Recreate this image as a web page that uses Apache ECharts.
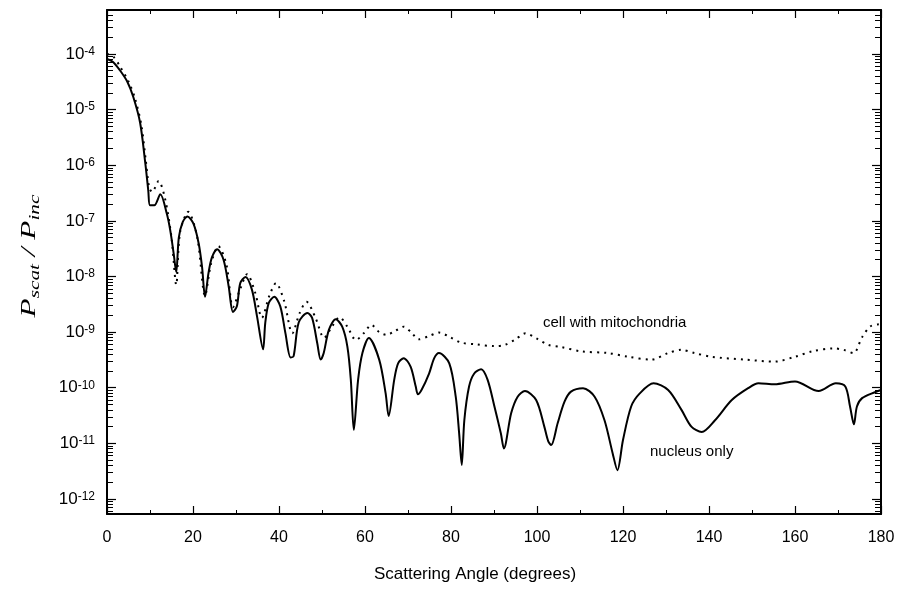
<!DOCTYPE html>
<html><head><meta charset="utf-8">
<script src="https://cdn.jsdelivr.net/npm/echarts@6/dist/echarts.min.js"></script>
<style>html,body{margin:0;padding:0;background:#fff}#c{width:903px;height:593px}</style>
</head><body><div id="c"></div>
<script>
// Scattering angle (degrees) and P_scat/P_inc for the nucleus only
const nucleusAngle = [0,1.4,3,4.7,6.1,7.7,8.9,9.6,10,11,12.4,13.9,14.7,15.5,16.1,16.7,17.6,18.7,20.1,21.3,22.1,22.8,23.6,24.4,25.6,27.1,28.3,29.3,30.2,31,32.2,33.7,34.9,36.3,36.8,37.6,38.9,40.3,41.5,42.7,43.4,44.6,46.6,47.7,48.9,49.7,50.4,51.6,53.2,54.7,55.9,56.7,57.4,58.4,59.4,60.9,63.3,64.8,65.5,66.8,67.7,69,70.6,71.8,72.3,73.2,74.9,76.1,77.2,79.6,81.1,81.9,82.5,83.1,84.2,85.4,87,88.5,90.1,91.6,92.3,94,95.5,97.2,99.8,101.7,102.6,103.3,104.8,106.4,107.9,110.7,113.4,115.7,117.6,118.7,120,121.9,123.9,127.1,130.5,133.6,135.9,138.3,141.4,145.3,149.1,151.5,155.3,160,165.5,169.5,171.7,172.8,173.7,174.4,175.6,178.6,180];
const nucleusValue = [8.1e-5,7.2e-5,5.1e-5,3.2e-5,1.7e-5,5.8e-6,1.1e-6,3.5e-7,1.9e-7,1.9e-7,3.0e-7,1.35e-7,6.8e-8,2.6e-8,1.2e-8,5.0e-8,9.5e-8,1.2e-7,8.9e-8,4.0e-8,1.5e-8,4.3e-9,1.15e-8,2.2e-8,3.1e-8,2.0e-8,6.6e-9,2.3e-9,2.9e-9,7.6e-9,9.8e-9,5.8e-9,1.9e-9,4.9e-10,1.45e-9,3.3e-9,4.3e-9,2.9e-9,9.5e-10,3.5e-10,3.7e-10,1.5e-9,2.2e-9,1.8e-9,6.3e-10,3.2e-10,4.2e-10,1.1e-9,1.7e-9,1.25e-9,5.5e-10,1.4e-10,1.75e-11,1.4e-10,4.2e-10,7.8e-10,3.2e-10,7.9e-11,3.1e-11,1.4e-10,2.75e-10,3.4e-10,2.4e-10,1.05e-10,7.6e-11,9.3e-11,1.8e-10,3.4e-10,4.2e-10,2.75e-10,6.9e-11,1.5e-11,4.1e-12,2.6e-11,1.05e-10,1.8e-10,2.15e-10,1.4e-10,4.6e-11,1.5e-11,8.1e-12,3.5e-11,6.9e-11,8.7e-11,6.0e-11,2.0e-11,1.1e-11,9.3e-12,2.3e-11,5.6e-11,8.5e-11,9.8e-11,6.9e-11,2.6e-11,6.6e-12,3.3e-12,1.15e-11,4.6e-11,7.9e-11,1.2e-10,9.1e-11,4.0e-11,2.0e-11,1.6e-11,2.6e-11,6.0e-11,9.8e-11,1.2e-10,1.15e-10,1.3e-10,8.7e-11,1.2e-10,1.05e-10,4.6e-11,2.2e-11,4.6e-11,6.5e-11,8.3e-11,9.1e-11];
// Whole cell with mitochondria
const mitoAngle = [0,1.5,3,5,6.5,8,9,9.8,10.5,12,13.5,15,16.1,17,18.9,21,22.8,24.2,25.9,27.8,29.3,31,32.6,34.5,36,37.8,39.3,41.2,43.1,44.8,46.4,48.5,50.5,52.3,54.1,55.9,57.9,59.7,61.5,63.3,65,67,69,70.8,72.5,74.9,77.2,79.8,82.3,86,90,92.5,95,97.3,100,102.6,105.6,110.3,116.5,121.2,126.6,130.5,133.6,136.6,140.6,148.3,155.3,160,164,169,171.3,173.6,175.6,177.5,179.4,180];
const mitoValue = [1.0e-4,8.9e-5,6.0e-5,3.2e-5,1.6e-5,5.2e-6,1.26e-6,4.0e-7,3.3e-7,5.2e-7,2.5e-7,5.0e-8,7.1e-9,6.3e-8,1.45e-7,5.0e-8,4.5e-9,1.7e-8,3.5e-8,1.6e-8,2.8e-9,6.0e-9,1.1e-8,5.0e-9,1.8e-9,4.6e-9,7.6e-9,3.6e-9,9.5e-10,2.2e-9,3.5e-9,1.8e-9,7.9e-10,1.25e-9,1.85e-9,1.25e-9,7.2e-10,9.5e-10,1.35e-9,1.0e-9,8.9e-10,1.05e-9,1.25e-9,9.8e-10,7.4e-10,8.5e-10,9.8e-10,8.1e-10,6.5e-10,6.0e-10,5.6e-10,5.9e-10,7.4e-10,9.5e-10,7.6e-10,5.9e-10,5.4e-10,4.5e-10,4.2e-10,3.6e-10,3.2e-10,4.2e-10,4.8e-10,4.2e-10,3.6e-10,3.2e-10,2.95e-10,3.6e-10,4.5e-10,5.1e-10,4.8e-10,4.2e-10,8.1e-10,1.26e-9,1.38e-9,1.4e-9];
const xTickValues = [0,20,40,60,80,100,120,140,160,180];
const yDecadeExponents = [-12,-11,-10,-9,-8,-7,-6,-5,-4];
const curveLabels = ['cell with mitochondria','nucleus only'];
const xTitle = 'Scattering Angle (degrees)';

const yMin = -12.27, yMax = -3.21;
const minorVals = [];
for (let e = -13; e <= -3; e++) for (let k = 2; k <= 9; k++) {
  const v = e + Math.log10(k);
  if (v > yMin && v < yMax) minorVals.push(v);
}
const nucData = nucleusAngle.map((a,i)=>[a, Math.log10(nucleusValue[i])]);
const mitoData = mitoAngle.map((a,i)=>[a, Math.log10(mitoValue[i])]);

const FONT = '"Liberation Sans", Arial, Helvetica, sans-serif';
const baseY = {type:'value', min:yMin, max:yMax, splitLine:{show:false}, axisLabel:{show:false}, axisLine:{show:false}, axisTick:{show:false}};
const yAxes = [
  Object.assign({}, baseY, {position:'left', axisLine:{show:true, lineStyle:{color:'#000', width:2}},
    axisTick:{show:true, inside:true, length:9, customValues:yDecadeExponents, lineStyle:{color:'#000', width:1.2}},
    axisLabel:{show:true, margin:12, customValues:yDecadeExponents, formatter: v => '{b|10}{s|' + v + '}',
      rich:{b:{fontFamily:FONT, fontSize:17, color:'#000', lineHeight:17, verticalAlign:'bottom'},
            s:{fontFamily:FONT, fontSize:12, color:'#000', lineHeight:12, verticalAlign:'top', padding:[0,0,8,0]}}}}),
  Object.assign({}, baseY, {position:'left', axisTick:{show:true, inside:true, length:6, customValues:minorVals, lineStyle:{color:'#000', width:1}}}),
  Object.assign({}, baseY, {position:'right', axisLine:{show:true, lineStyle:{color:'#000', width:2}},
    axisTick:{show:true, inside:true, length:9, customValues:yDecadeExponents, lineStyle:{color:'#000', width:1.2}}}),
  Object.assign({}, baseY, {position:'right', axisTick:{show:true, inside:true, length:6, customValues:minorVals, lineStyle:{color:'#000', width:1}}})
];
const baseX = {type:'value', min:0, max:180, interval:20, splitLine:{show:false},
  axisLine:{show:true, onZero:false, lineStyle:{color:'#000', width:2}},
  axisTick:{show:true, inside:true, length:8, lineStyle:{color:'#000', width:1.2}},
  minorTick:{show:true, splitNumber:2, length:4, lineStyle:{color:'#000', width:1}}};
const xAxes = [
  Object.assign({}, baseX, {position:'bottom', axisLabel:{show:true, margin:16, fontFamily:FONT, fontSize:16, color:'#000',
    customValues:xTickValues}}),
  Object.assign({}, baseX, {position:'top', axisLabel:{show:false}})
];

const chart = echarts.init(document.getElementById('c'), null, {renderer:'canvas'});
chart.setOption({
  animation:false,
  backgroundColor:'#fff',
  grid:{left:107, right:22, top:10, bottom:79, containLabel:false},
  xAxis:xAxes,
  yAxis:yAxes,
  series:[
    {type:'line', name:curveLabels[1], data:nucData, xAxisIndex:0, yAxisIndex:0, showSymbol:false, smooth:0.3,
     lineStyle:{color:'#000', width:2}, z:3},
    {type:'line', name:curveLabels[0], data:mitoData, xAxisIndex:0, yAxisIndex:0, showSymbol:false, smooth:0.3,
     lineStyle:{color:'#000', width:2, type:[2,5]}, z:2}
  ],
  graphic:[
    {type:'text', x:543, y:323, style:{text:curveLabels[0], font:'15px ' + FONT, fill:'#000', align:'left', verticalAlign:'middle'}},
    {type:'text', x:650, y:452, style:{text:curveLabels[1], font:'15px ' + FONT, fill:'#000', align:'left', verticalAlign:'middle'}},
    {type:'text', x:475, y:574, style:{text:xTitle, font:'17px ' + FONT, fill:'#000', align:'center', verticalAlign:'middle'}},
    {type:'text', x:28, y:256, rotation:Math.PI/2, scaleX:1.42,
     style:{text:'{p|P}{sb|scat}{p| / P}{sb|inc}', align:'center', verticalAlign:'middle',
       rich:{p:{fontFamily:'"Liberation Serif", "Times New Roman", serif', fontStyle:'italic', fontSize:22, fill:'#000', lineHeight:20, verticalAlign:'top'},
             sb:{fontFamily:'"Liberation Serif", "Times New Roman", serif', fontStyle:'italic', fontSize:15, fill:'#000', lineHeight:15, padding:[10,0,0,0], verticalAlign:'top'}}}}
  ]
});
</script>
</body></html>
